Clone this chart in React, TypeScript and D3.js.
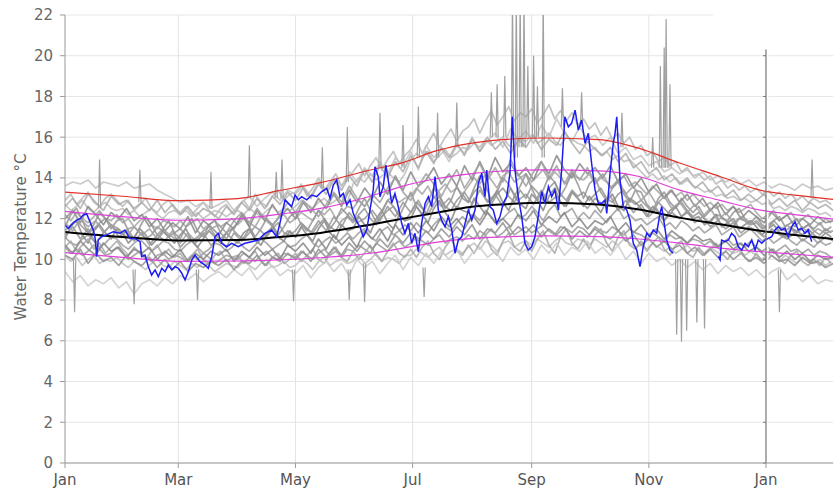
import React from "react";
import * as d3 from "d3";

const W = 835;
const H = 491;
const LEFT = 65;
const RIGHT = 833.2;
const TOP = 15;
const BOTTOM = 463;

const monthLabels = ["Jan", "Mar", "May", "Jul", "Sep", "Nov", "Jan"];
const monthDays = [0, 59, 120, 181, 243, 304, 365];
const yTicks = [0, 2, 4, 6, 8, 10, 12, 14, 16, 18, 20, 22];
const yLabel = "Water Temperature °C";

// climatology curves (day of year -> °C)
const curveDays = [0, 30, 59, 90, 110, 133, 159, 176, 194, 211, 228, 250, 278, 299, 320, 341, 362, 380, 400];
const meanTemp = [11.35, 11.1, 10.93, 10.95, 11.08, 11.3, 11.7, 12.0, 12.3, 12.57, 12.7, 12.78, 12.7, 12.45, 12.05, 11.72, 11.4, 11.2, 11.0];
const upperSd = [12.36, 12.1, 11.92, 11.99, 12.2, 12.5, 13.1, 13.6, 13.97, 14.2, 14.34, 14.39, 14.35, 14.07, 13.4, 12.9, 12.42, 12.2, 11.98];
const lowerSd = [10.33, 10.1, 9.9, 9.92, 9.97, 10.08, 10.3, 10.55, 10.85, 11.02, 11.1, 11.15, 11.12, 11.0, 10.8, 10.55, 10.38, 10.25, 10.1];
const upper2Sd = [13.3, 13.1, 12.88, 12.98, 13.35, 13.77, 14.39, 14.75, 15.35, 15.7, 15.88, 15.96, 15.88, 15.45, 14.73, 14.07, 13.4, 13.15, 12.95];

// historical years sampled every 4 days (day 0..400)
const gray1 = [
  13.6, 13.8, 13.7, 13.9, 13.5, 13.8, 13.7, 13.6, 13.8, 13.5,
  13.6, 13.7, 13.4, 13.2, 13.0, 12.8, 12.9, 12.6, 12.8, 12.5,
  12.7, 12.9, 12.4, 12.8, 13.1, 12.6, 13.0, 13.3, 12.9, 13.4,
  13.2, 13.6, 13.1, 13.8, 13.4, 14.0, 13.6, 14.3, 13.8, 14.5,
  14.1, 14.8, 14.2, 15.0, 14.6, 15.3, 14.4, 15.6, 15.0, 15.4,
  14.8, 15.6, 15.2, 16.0, 15.3, 15.8, 16.2, 15.5, 16.4, 15.9,
  16.3, 15.7, 16.6, 16.0, 16.9, 16.2, 15.8, 16.5, 15.9, 16.1,
  15.6, 16.0, 15.2, 15.5, 14.9, 15.1, 14.6, 14.8, 14.3, 14.5,
  14.2, 14.4, 14.0, 14.3, 13.9, 14.1, 13.8, 14.0, 13.7, 13.9,
  13.6, 13.8, 13.5, 13.7, 13.6, 13.4, 13.7, 13.5, 13.6, 13.4,
  13.5,
];
const gray2 = [
  9.4, 8.9, 9.2, 8.7, 9.0, 8.8, 9.1, 8.6, 8.9, 8.3,
  8.8, 9.0, 8.7, 9.1, 8.8, 9.2, 9.0, 9.3, 8.9, 9.2,
  9.4, 9.1, 9.5, 9.2, 9.6, 9.0, 9.4, 9.7, 9.2, 9.5,
  9.3, 9.7, 9.1, 9.6, 9.9, 9.4, 9.8, 9.2, 10.0, 9.6,
  9.9, 9.3, 9.8, 10.2, 9.5, 10.1, 9.7, 10.3, 9.8, 10.4,
  10.0, 10.5, 9.8, 10.3, 10.6, 10.1, 10.4, 9.9, 10.6, 10.2,
  10.5, 10.0, 10.7, 10.3, 10.8, 10.2, 10.6, 10.4, 10.9, 10.3,
  10.6, 10.2, 10.7, 10.0, 10.4, 9.8, 10.3, 9.9, 10.1, 9.7,
  10.0, 9.6, 9.9, 9.5, 9.8, 9.3, 9.7, 9.4, 9.6, 9.2,
  9.5, 9.1, 9.4, 9.6, 9.0, 9.3, 8.9, 9.2, 8.8, 9.0,
  8.9,
];
const gray3 = [
  12.0, 12.4, 11.8, 12.6, 12.2, 11.7, 12.3, 12.0, 12.5, 11.9,
  12.2, 11.6, 12.0, 11.4, 11.8, 11.5, 12.1, 11.3, 11.9, 11.6,
  11.2, 11.8, 11.5, 12.2, 11.6, 12.4, 11.9, 12.7, 12.1, 12.5,
  12.0, 12.8, 12.3, 13.0, 12.5, 13.2, 12.6, 13.4, 12.8, 13.5,
  13.0, 13.8, 13.2, 14.1, 13.4, 14.3, 13.6, 13.9, 14.5, 13.7,
  14.2, 13.6, 14.6, 13.9, 14.8, 14.0, 15.0, 14.3, 14.7, 14.1,
  14.5, 13.9, 14.8, 14.2, 15.1, 14.4, 14.0, 14.7, 14.2, 14.5,
  14.0, 14.6, 13.8, 14.2, 13.5, 14.0, 13.3, 13.7, 13.0, 13.4,
  12.8, 13.2, 12.6, 13.0, 12.4, 12.8, 12.2, 12.6, 12.0, 12.4,
  12.1, 11.8, 12.3, 11.9, 12.2, 11.6, 12.0, 11.7, 12.1, 11.8,
  11.9,
];
const gray4 = [
  11.2, 11.6, 11.0, 11.5, 10.8, 11.3, 11.7, 11.1, 11.4, 10.9,
  11.3, 10.7, 11.2, 10.9, 11.4, 10.6, 11.0, 10.8, 11.3, 10.7,
  11.0, 10.6, 11.3, 10.9, 11.5, 10.8, 11.2, 11.6, 11.0, 11.4,
  11.1, 11.7, 11.3, 11.9, 11.4, 12.1, 11.6, 12.3, 11.8, 12.0,
  12.4, 11.9, 12.6, 12.1, 12.8, 12.3, 12.9, 12.2, 13.1, 12.6,
  13.0, 12.5, 13.3, 12.7, 13.4, 12.8, 13.2, 12.6, 13.5, 12.9,
  13.2, 12.7, 13.4, 12.8, 13.1, 12.6, 13.3, 12.9, 12.5, 13.0,
  12.7, 13.1, 12.4, 12.9, 12.3, 12.7, 12.1, 12.5, 11.9, 12.3,
  12.0, 12.4, 11.8, 12.1, 11.6, 11.9, 11.5, 11.8, 11.3, 11.6,
  11.4, 11.1, 11.5, 11.2, 11.0, 11.3, 10.9, 11.2, 10.8, 11.1,
  10.9,
];
const gray5 = [
  10.7, 10.3, 10.9, 10.5, 10.2, 10.8, 10.4, 10.6, 10.1, 10.5,
  10.3, 10.6, 10.0, 10.4, 10.1, 10.5, 9.9, 10.3, 10.0, 10.4,
  10.2, 10.5, 9.9, 10.4, 10.1, 10.6, 10.2, 10.5, 10.0, 10.7,
  10.4, 10.8, 10.3, 11.0, 10.5, 11.2, 10.7, 11.1, 10.6, 11.4,
  11.0, 11.5, 10.9, 11.7, 11.2, 11.8, 11.3, 11.9, 11.4, 12.1,
  11.6, 12.0, 11.5, 12.2, 11.7, 12.3, 11.8, 12.0, 11.6, 12.2,
  11.9, 12.4, 11.7, 12.1, 11.8, 12.3, 11.6, 12.0, 11.5, 11.9,
  11.7, 12.1, 11.4, 11.8, 11.3, 11.7, 11.2, 11.5, 11.0, 11.4,
  11.1, 10.8, 11.2, 10.9, 11.0, 10.6, 10.9, 10.5, 10.8, 10.4,
  10.6, 10.2, 10.5, 10.1, 10.4, 10.0, 10.3, 9.9, 10.2, 10.0,
  10.1,
];
const gray6 = [
  12.6, 13.0, 12.5, 13.2, 12.8, 12.4, 13.1, 12.7, 12.9, 12.5,
  12.8, 12.4, 12.9, 12.3, 12.7, 12.2, 12.6, 12.1, 12.5, 12.3,
  12.0, 12.6, 12.2, 12.8, 12.4, 13.0, 12.5, 13.1, 12.7, 13.3,
  12.9, 13.5, 13.0, 13.7, 13.2, 13.9, 13.4, 14.1, 13.6, 14.4,
  13.8, 14.6, 14.0, 14.8, 14.3, 15.1, 14.5, 15.3, 14.7, 15.5,
  15.0, 15.7, 15.1, 15.9, 15.3, 16.0, 15.4, 15.8, 15.2, 15.9,
  15.5, 16.1, 15.4, 15.9, 15.6, 16.3, 15.7, 15.2, 15.8, 15.4,
  15.1, 15.5, 14.8, 15.2, 14.5, 14.8, 14.2, 14.5, 13.9, 14.2,
  13.7, 14.0, 13.5, 13.8, 13.3, 13.6, 13.1, 13.4, 12.9, 13.2,
  12.9, 13.2, 12.7, 13.0, 12.6, 12.9, 12.4, 12.8, 12.5, 12.7,
  12.4,
];
const gray7 = [
  10.2, 10.0, 10.5, 9.8, 10.3, 9.9, 10.1, 9.7, 10.2, 9.9,
  9.7, 10.1, 9.6, 10.0, 9.5, 9.9, 9.4, 9.8, 9.6, 9.9,
  9.7, 10.0, 9.5, 9.9, 9.8, 10.2, 9.7, 10.1, 9.9, 10.3,
  10.0, 10.4, 9.9, 10.5, 10.1, 10.6, 10.2, 10.8, 10.4, 10.9,
  10.5, 11.0, 10.6, 11.2, 10.8, 11.3, 10.9, 11.4, 11.0, 11.5,
  11.1, 11.6, 11.2, 11.7, 11.0, 11.5, 11.3, 11.8, 11.2, 11.6,
  11.3, 11.7, 11.1, 11.5, 11.2, 11.6, 11.0, 11.4, 11.1, 11.5,
  11.2, 11.0, 11.4, 10.9, 11.2, 10.7, 11.0, 10.6, 10.9, 10.5,
  10.7, 10.3, 10.6, 10.2, 10.5, 10.1, 10.4, 10.0, 10.3, 9.9,
  10.1, 9.8, 10.2, 9.9, 10.0, 9.7, 10.1, 9.8, 9.9, 9.6,
  9.8,
];
const gray8 = [
  11.8, 11.4, 12.0, 11.6, 11.9, 11.3, 11.7, 11.5, 11.1, 11.6,
  11.2, 11.5, 11.0, 11.4, 11.1, 10.8, 11.3, 10.9, 11.2, 11.5,
  11.7, 11.3, 11.9, 12.3, 11.8, 12.5, 12.0, 11.6, 12.2, 12.8,
  12.3, 12.9, 12.5, 12.1, 12.7, 13.3, 12.8, 13.6, 13.0, 12.6,
  13.2, 12.8, 13.5, 14.0, 13.3, 12.9, 13.6, 14.2, 13.7, 13.1,
  13.8, 14.4, 13.5, 14.1, 14.7, 13.9, 14.5, 13.8, 14.9, 14.2,
  13.6, 14.3, 14.8, 14.0, 14.6, 13.7, 14.4, 13.9, 14.5, 13.8,
  14.2, 13.5, 13.9, 13.2, 13.6, 12.9, 13.3, 12.7, 13.1, 12.5,
  12.8, 12.3, 12.7, 12.1, 12.5, 11.9, 12.3, 11.8, 12.1, 11.7,
  11.9, 11.5, 11.8, 11.4, 11.7, 11.3, 11.6, 11.2, 11.5, 11.3,
  11.4,
];

// historical years sampled every 3 days (day 0..399)
const gray9 = [
  11.4, 11.7, 11.9, 11.6, 11.3, 11.5, 11.8, 12.0, 11.7, 11.4,
  11.2, 11.5, 11.6, 11.3, 11.0, 11.2, 11.6, 11.4, 11.1, 11.3,
  11.5, 11.2, 10.9, 11.1, 11.4, 11.6, 11.2, 11.0, 11.3, 11.5,
  11.2, 11.0, 11.3, 11.6, 11.4, 11.1, 11.5, 11.8, 11.3, 11.2,
  11.4, 11.8, 11.5, 11.3, 11.7, 12.0, 11.6, 11.4, 11.9, 12.1,
  11.8, 12.2, 12.5, 12.0, 11.7, 12.1, 12.4, 12.6, 12.2, 11.9,
  12.3, 12.8, 12.5, 12.2, 12.7, 13.1, 12.6, 12.4, 12.9, 13.2,
  12.8, 13.3, 13.6, 13.0, 12.7, 13.2, 13.5, 13.1, 12.8, 13.4,
  13.0, 13.6, 13.3, 12.9, 13.5, 13.8, 13.2, 12.9, 13.4, 13.1,
  13.3, 12.9, 13.2, 13.5, 13.0, 12.8, 13.2, 13.4, 12.9, 12.7,
  12.9, 12.6, 12.3, 12.8, 12.5, 12.2, 12.6, 12.8, 12.4, 12.1,
  12.3, 12.0, 11.8, 12.2, 12.1, 11.8, 11.6, 12.0, 11.9, 11.7,
  11.8, 11.5, 11.7, 11.9, 11.6, 11.4, 11.6, 11.3, 11.5, 11.7,
  11.4, 11.2, 11.5, 11.3,
];
const gray10 = [
  11.1, 10.8, 10.7, 11.0, 11.2, 10.9, 10.6, 10.8, 11.1, 11.0,
  10.7, 10.5, 10.8, 11.0, 10.7, 10.4, 10.6, 10.9, 10.8, 10.5,
  10.4, 10.7, 10.9, 10.6, 10.3, 10.5, 10.8, 10.7, 10.4, 10.6,
  10.9, 10.6, 10.4, 10.7, 11.0, 10.8, 10.5, 10.7, 10.9, 10.6,
  10.7, 11.0, 11.2, 10.8, 10.6, 10.9, 11.1, 10.8, 11.0, 11.3,
  11.0, 11.3, 11.5, 11.1, 10.9, 11.4, 11.6, 11.2, 11.4, 11.7,
  11.4, 11.8, 11.5, 11.3, 11.7, 12.0, 11.6, 11.4, 11.8, 12.1,
  11.8, 12.2, 11.9, 12.4, 12.1, 11.7, 12.0, 12.3, 12.5, 12.0,
  12.2, 12.6, 12.3, 11.9, 12.4, 12.7, 12.1, 12.3, 12.5, 12.0,
  12.3, 12.0, 12.4, 12.1, 11.8, 12.2, 12.5, 12.0, 12.2, 11.9,
  12.0, 11.7, 11.9, 12.1, 11.6, 11.8, 11.5, 11.9, 11.7, 11.4,
  11.6, 11.3, 11.5, 11.7, 11.2, 11.4, 11.6, 11.1, 11.3, 11.5,
  11.2, 10.9, 11.1, 10.8, 11.0, 11.2, 10.9, 10.7, 11.0, 10.8,
  10.6, 10.9, 10.7, 10.8,
];
const gray11 = [
  12.2, 11.9, 12.3, 12.0, 11.8, 12.1, 12.4, 12.0, 11.9, 12.2,
  11.8, 12.0, 11.6, 11.9, 12.1, 11.7, 11.5, 11.9, 11.8, 11.6,
  11.9, 11.6, 11.8, 12.0, 11.5, 11.7, 11.9, 11.6, 11.8, 12.0,
  11.7, 12.0, 11.8, 11.6, 12.1, 11.9, 11.7, 12.0, 12.2, 11.8,
  12.0, 12.3, 12.1, 11.9, 12.4, 12.2, 12.5, 12.0, 12.3, 12.6,
  12.5, 12.9, 12.6, 13.0, 12.7, 12.4, 12.9, 13.1, 12.8, 13.0,
  13.1, 13.5, 13.2, 13.6, 13.0, 13.4, 13.7, 13.3, 13.5, 13.2,
  13.6, 14.0, 13.7, 14.2, 13.9, 13.5, 14.1, 14.3, 13.8, 14.0,
  14.2, 13.8, 14.1, 14.4, 13.9, 14.3, 14.0, 13.7, 14.2, 14.0,
  13.9, 14.2, 13.7, 14.0, 13.8, 13.5, 13.9, 14.1, 13.6, 13.8,
  13.5, 13.2, 13.6, 13.3, 13.0, 13.4, 13.1, 13.3, 12.9, 13.2,
  12.9, 12.6, 12.8, 12.5, 12.7, 12.4, 12.6, 12.3, 12.5, 12.7,
  12.3, 12.0, 12.2, 12.4, 11.9, 12.1, 12.3, 11.9, 12.0, 12.2,
  11.9, 11.7, 12.0, 11.8,
];
const gray12 = [
  10.6, 10.3, 10.5, 10.2, 10.4, 10.7, 10.5, 10.2, 10.3, 10.6,
  10.3, 10.0, 10.2, 10.4, 10.1, 9.9, 10.2, 10.3, 10.0, 10.2,
  10.1, 9.9, 10.2, 10.0, 10.3, 10.1, 9.8, 10.0, 10.2, 10.1,
  10.0, 10.3, 10.1, 9.9, 10.2, 10.4, 10.1, 10.0, 10.3, 10.2,
  10.1, 10.4, 10.2, 10.0, 10.3, 10.5, 10.2, 10.4, 10.1, 10.5,
  10.4, 10.7, 10.5, 10.3, 10.8, 10.6, 10.4, 10.7, 10.9, 10.6,
  10.8, 11.1, 10.9, 10.7, 11.0, 11.2, 10.8, 11.0, 11.1, 10.9,
  11.2, 11.0, 11.4, 11.2, 11.5, 11.1, 11.3, 11.6, 11.2, 11.4,
  11.6, 11.3, 11.5, 11.7, 11.4, 11.2, 11.6, 11.5, 11.3, 11.6,
  11.5, 11.2, 11.6, 11.4, 11.3, 11.6, 11.4, 11.2, 11.5, 11.3,
  11.2, 11.0, 11.3, 11.1, 10.9, 11.2, 11.0, 11.1, 10.8, 11.0,
  10.9, 10.7, 10.9, 10.6, 10.8, 11.0, 10.7, 10.8, 10.6, 10.9,
  10.6, 10.4, 10.6, 10.3, 10.5, 10.7, 10.4, 10.5, 10.3, 10.5,
  10.2, 10.4, 10.3, 10.1,
];
const gray13 = [
  11.0, 11.6, 11.9, 11.2, 10.8, 11.4, 11.7, 11.3, 11.0, 11.5,
  11.3, 10.8, 11.1, 11.5, 11.2, 10.7, 11.0, 11.4, 11.1, 10.8,
  11.2, 11.5, 10.9, 10.6, 11.0, 11.4, 11.1, 10.8, 11.3, 11.0,
  10.8, 11.3, 11.5, 11.0, 10.7, 11.2, 11.6, 11.1, 10.9, 11.4,
  11.1, 11.6, 11.2, 10.9, 11.5, 11.9, 11.3, 11.0, 11.7, 11.4,
  11.5, 12.1, 11.7, 11.3, 12.0, 12.4, 11.8, 11.5, 12.2, 11.9,
  12.0, 12.6, 12.2, 11.8, 12.5, 12.9, 12.3, 11.9, 12.6, 12.4,
  12.3, 13.0, 12.6, 12.2, 12.9, 13.4, 12.8, 12.4, 13.1, 12.7,
  12.5, 13.2, 12.9, 12.4, 13.1, 13.5, 12.8, 12.6, 13.3, 13.0,
  12.6, 13.1, 12.7, 12.3, 12.9, 13.2, 12.6, 12.4, 13.0, 12.8,
  12.5, 12.1, 12.6, 12.3, 11.9, 12.4, 12.6, 12.1, 12.3, 12.0,
  12.1, 11.7, 11.9, 12.2, 11.6, 11.8, 12.0, 11.5, 11.7, 11.9,
  11.6, 11.2, 11.5, 11.7, 11.3, 11.1, 11.5, 11.4, 11.2, 11.5,
  11.2, 11.0, 11.3, 11.1,
];
const gray14 = [
  12.7, 12.4, 12.6, 12.9, 12.5, 12.3, 12.6, 12.8, 12.5, 12.4,
  12.5, 12.2, 12.4, 12.1, 12.3, 12.5, 12.2, 12.0, 12.3, 12.4,
  12.2, 12.4, 12.1, 12.3, 12.0, 12.2, 12.4, 12.3, 12.1, 12.3,
  12.4, 12.2, 12.5, 12.3, 12.1, 12.4, 12.6, 12.3, 12.5, 12.4,
  12.6, 12.9, 12.7, 12.5, 12.8, 13.0, 12.7, 12.9, 13.1, 12.8,
  13.7, 14.0, 13.8, 14.2, 13.9, 14.1, 14.3, 14.0, 13.8, 14.2,
  14.9, 15.2, 15.0, 15.3, 14.8, 15.1, 15.4, 15.0, 15.2, 15.5,
  15.4, 15.7, 15.5, 15.9, 15.6, 15.8, 16.0, 15.6, 15.5, 15.9,
  15.8, 16.1, 15.7, 15.9, 16.2, 15.8, 15.6, 16.0, 15.9, 15.7,
  15.6, 15.3, 15.5, 15.1, 15.3, 14.9, 15.1, 14.8, 14.9, 14.6,
  14.3, 14.0, 14.2, 13.9, 14.1, 13.8, 14.0, 13.7, 13.9, 13.6,
  13.5, 13.3, 13.4, 13.1, 13.2, 13.0, 13.1, 12.9, 13.0, 12.8,
  12.9, 12.7, 12.8, 12.5, 12.6, 12.4, 12.6, 12.5, 12.3, 12.5,
  12.4, 12.2, 12.3, 12.1,
];
const gray15 = [
  10.2, 9.9, 10.1, 9.7, 10.0, 10.2, 9.8, 10.0, 9.9, 10.1,
  9.8, 9.6, 9.9, 9.7, 9.5, 9.8, 10.0, 9.7, 9.6, 9.9,
  9.7, 9.5, 9.8, 9.6, 9.9, 9.7, 9.4, 9.6, 9.8, 9.7,
  9.6, 9.9, 9.7, 9.5, 9.8, 10.0, 9.6, 9.7, 9.9, 9.6,
  9.7, 10.0, 9.8, 9.5, 9.9, 10.1, 9.7, 9.9, 10.0, 9.8,
  9.9, 10.2, 9.8, 10.0, 10.3, 9.9, 10.1, 10.0, 9.8, 10.2,
  10.2, 10.5, 10.3, 10.1, 10.4, 10.6, 10.2, 10.4, 10.5, 10.3,
  10.6, 10.8, 10.5, 10.9, 10.7, 10.4, 10.8, 10.9, 10.6, 10.8,
  10.9, 10.7, 11.0, 10.8, 10.6, 10.9, 11.1, 10.8, 10.7, 11.0,
  10.9, 10.7, 11.0, 10.8, 10.6, 10.9, 10.7, 11.0, 10.8, 10.6,
  10.7, 10.5, 10.8, 10.6, 10.4, 10.6, 10.3, 10.5, 10.7, 10.4,
  10.5, 10.3, 10.6, 10.4, 10.2, 10.5, 10.3, 10.4, 10.2, 10.4,
  10.2, 10.0, 10.3, 10.1, 9.9, 10.2, 10.0, 9.8, 10.1, 9.9,
  9.8, 10.0, 9.7, 9.9,
];
const gray16 = [
  11.6, 12.2, 12.5, 11.9, 11.3, 11.7, 12.3, 12.0, 11.5, 11.9,
  12.0, 11.4, 11.0, 11.6, 12.1, 11.7, 11.2, 11.5, 11.9, 11.3,
  11.0, 11.6, 12.0, 11.4, 11.1, 11.7, 11.9, 11.3, 11.0, 11.5,
  11.8, 12.2, 11.6, 11.1, 11.5, 12.0, 11.7, 11.2, 11.6, 12.1,
  12.3, 11.7, 11.4, 11.9, 12.4, 12.0, 11.5, 11.9, 12.5, 12.2,
  11.9, 12.5, 13.0, 12.4, 11.8, 12.3, 12.9, 12.6, 12.1, 12.7,
  13.3, 12.6, 12.2, 12.8, 13.5, 13.1, 12.5, 12.9, 13.6, 13.0,
  12.8, 13.5, 14.1, 13.6, 12.9, 13.3, 14.0, 13.7, 13.1, 13.6,
  14.2, 13.5, 12.9, 13.4, 14.1, 13.8, 13.1, 13.6, 14.3, 13.7,
  13.0, 13.7, 14.0, 13.3, 12.9, 13.5, 13.8, 13.2, 12.8, 13.4,
  13.3, 12.7, 12.4, 13.0, 13.3, 12.8, 12.5, 13.0, 12.6, 12.3,
  12.6, 12.1, 12.4, 12.7, 12.0, 11.9, 12.3, 12.5, 12.0, 11.8,
  12.1, 11.7, 11.5, 11.9, 12.1, 11.6, 11.8, 12.0, 11.5, 11.7,
  11.5, 11.8, 11.4, 11.6,
];
const gray17 = [
  12.9, 13.2, 12.7, 13.0, 13.3, 12.8, 12.6, 13.0, 13.2, 12.9,
  12.6, 12.9, 12.4, 12.7, 13.0, 12.5, 12.3, 12.7, 12.9, 12.5,
  12.3, 12.6, 12.2, 12.5, 12.8, 12.4, 12.1, 12.5, 12.7, 12.3,
  12.6, 12.9, 12.5, 13.2, 12.8, 12.6, 13.1, 13.4, 12.9, 13.2,
  13.3, 13.7, 13.1, 13.5, 14.0, 13.4, 13.8, 14.2, 13.6, 14.0,
  14.3, 14.7, 14.1, 14.6, 15.0, 14.4, 14.9, 15.3, 14.7, 15.1,
  15.4, 15.9, 15.2, 15.7, 16.2, 15.5, 16.0, 16.4, 15.8, 16.3,
  16.5, 16.9, 16.2, 16.8, 17.3, 16.6, 17.0, 17.5, 16.8, 17.2,
  17.0, 17.4, 16.7, 17.1, 17.6, 16.9, 17.3, 16.8, 17.2, 16.6,
  16.9, 16.4, 16.7, 16.1, 16.5, 15.9, 16.2, 15.7, 16.0, 15.4,
  15.6, 15.1, 15.3, 14.8, 15.0, 14.6, 14.8, 14.3, 14.5, 14.1,
  14.2, 13.9, 14.1, 13.7, 13.9, 13.5, 13.7, 13.4, 13.6, 13.3,
  13.5, 13.2, 13.4, 13.1, 13.3, 13.0, 13.2, 12.9, 13.1, 12.8,
  13.0, 12.8, 12.9, 12.7,
];
const gray18 = [
  10.6, 10.9, 10.4, 10.7, 11.0, 10.5, 10.8, 10.3, 10.6, 10.9,
  10.5, 10.2, 10.6, 10.3, 10.0, 10.4, 10.7, 10.2, 10.5, 10.1,
  10.3, 9.9, 10.2, 10.5, 10.0, 9.8, 10.2, 10.4, 9.9, 10.1,
  10.2, 9.8, 10.1, 10.4, 9.9, 9.7, 10.1, 10.3, 9.8, 10.0,
  10.3, 9.9, 10.2, 10.5, 10.0, 9.8, 10.3, 10.6, 10.1, 9.9,
  10.4, 10.0, 10.3, 10.7, 10.2, 9.9, 10.4, 10.8, 10.3, 10.1,
  10.5, 10.1, 10.6, 10.9, 10.3, 10.0, 10.6, 11.0, 10.4, 10.2,
  10.7, 10.3, 10.8, 11.2, 10.5, 10.2, 10.9, 11.3, 10.6, 10.4,
  10.9, 10.4, 11.0, 11.4, 10.7, 10.3, 11.1, 11.5, 10.8, 10.5,
  11.0, 10.5, 11.2, 11.5, 10.8, 10.4, 11.1, 11.4, 10.7, 10.5,
  10.9, 10.4, 10.8, 11.1, 10.5, 10.2, 10.7, 10.9, 10.3, 10.1,
  10.6, 10.2, 10.5, 10.8, 10.3, 10.0, 10.4, 10.6, 10.1, 9.9,
  10.3, 9.9, 10.2, 10.5, 10.0, 9.8, 10.2, 10.4, 9.9, 9.7,
  10.0, 9.7, 10.1, 9.8,
];

const grayEvery4 = [gray1, gray2, gray3, gray4, gray5, gray6, gray7, gray8];
const grayEvery3 = [gray9, gray10, gray11, gray12, gray13, gray14, gray15, gray16, gray17, gray18];
const shades4 = ["#c2c2c2", "#cccccc", "#8a8a8a", "#979797", "#868686", "#ababab", "#929292", "#a0a0a0"];
const shades3 = ["#959595", "#9e9e9e", "#a6a6a6", "#9b9b9b", "#888888", "#bdbdbd", "#c0c0c0", "#949494", "#b8b8b8", "#a8a8a8"];

// short excursions in the historical records: [day, base °C, extreme °C]
const spikes: [number, number, number][] = [
  [5, 10.0, 7.4], [18, 12.5, 14.9], [36, 9.5, 7.8], [39, 12.8, 14.4], [69, 9.5, 8.0],
  [76, 12.5, 14.3], [96, 13.0, 15.6], [110, 13.0, 14.3], [113, 13.0, 14.9], [119, 9.5, 7.95],
  [134, 13.5, 15.5], [147, 13.8, 16.5], [148, 9.5, 8.0], [156, 9.8, 7.9], [164, 14.5, 17.2],
  [176, 14.5, 16.6], [184, 15.0, 17.5], [187, 9.6, 8.15], [194, 15.0, 17.2], [204, 15.5, 17.7],
  [222, 16.0, 18.2], [225, 16.0, 18.6], [229, 16.0, 19.0], [233, 15.5, 23], [235, 15.0, 23],
  [237, 15.5, 23], [239, 15.5, 23], [241, 16.0, 19.5], [244, 16.0, 20.0], [246, 16.0, 18.5],
  [249, 15.0, 23], [259, 16.5, 18.4], [269, 16.5, 18.2], [290, 15.5, 17.2], [306, 14.5, 16.0],
  [310, 14.5, 19.5], [312, 14.5, 20.4], [313, 14.5, 21.8], [315, 14.5, 18.6],
  [318.5, 10.0, 6.3], [321, 10.0, 5.95], [323.7, 10.0, 6.5], [329, 10.0, 6.9], [333, 10.0, 6.6],
  [372, 9.5, 7.4], [389, 13.0, 14.9],
];

// current year (blue), two recorded stretches
const blueA: [number, number][] = [
  [0, 11.69], [1.7, 11.52], [4.3, 11.8], [6.1, 11.93], [7.8, 12.0], [9.5, 12.18], [11.3, 12.23], [13.0, 11.85],
  [14.7, 11.44], [15.6, 11.11], [16.5, 10.13], [17.3, 10.95], [19.1, 11.11], [21.7, 11.2], [25.1, 11.36], [28.6, 11.28],
  [31.2, 11.44], [33.8, 11.03], [36.4, 11.03], [39.1, 10.87], [39.9, 10.13], [41.7, 10.21], [43.4, 9.64], [45.1, 9.23],
  [46.9, 9.48], [48.6, 9.15], [50.4, 9.56], [52.1, 9.39], [53.8, 9.72], [55.6, 9.48], [57.3, 9.64], [59.0, 9.56],
  [60.8, 9.32], [62.5, 8.99], [64.2, 9.39], [66.0, 9.97], [67.7, 10.21], [70.3, 9.89], [72.9, 9.72], [74.6, 9.56],
  [76.4, 10.13], [78.1, 11.11], [79.8, 11.28], [81.6, 10.79], [84.2, 10.62], [86.8, 10.79], [90.2, 10.62], [93.7, 10.79],
  [97.2, 10.87], [100.6, 10.95], [104.1, 11.28], [107.6, 11.44], [110.2, 11.11], [111.9, 11.77], [114.6, 12.92], [116.3, 12.75],
  [118.0, 12.59], [119.8, 13.16], [121.5, 12.92], [123.2, 13.08], [125.9, 12.92], [128.5, 13.16], [131.1, 13.08], [133.7, 13.33],
  [136.3, 13.49], [138.0, 13.0], [139.7, 13.65], [141.5, 13.9], [143.2, 13.08], [144.9, 13.24], [146.7, 12.67], [148.4, 12.92],
  [150.1, 12.26], [151.9, 11.85], [153.6, 11.6], [155.3, 11.11], [157.1, 11.44], [158.8, 12.42], [160.5, 13.41], [161.4, 14.55],
  [163.1, 14.06], [164.0, 13.08], [165.7, 13.57], [167.1, 14.63], [168.3, 13.9], [170.1, 12.75], [171.8, 13.24], [173.5, 12.59],
  [175.3, 11.77], [177.0, 11.28], [178.8, 11.77], [180.5, 10.79], [182.2, 11.28], [184.0, 10.38], [185.7, 11.77], [187.5, 12.75],
  [189.2, 13.08], [190.9, 12.59], [192.7, 14.06], [194.4, 12.42], [196.1, 11.93], [197.9, 11.6], [199.6, 12.1], [201.4, 11.44],
  [203.1, 10.3], [204.8, 10.95], [206.6, 11.11], [208.3, 11.77], [210.0, 12.42], [211.8, 11.93], [213.5, 12.42], [215.2, 13.73],
  [217.0, 14.23], [218.7, 13.08], [219.6, 14.39], [221.3, 12.59], [223.0, 12.42], [224.8, 11.77], [226.5, 12.1], [228.2, 12.75],
  [230.0, 13.08], [231.7, 14.23], [232.9, 17.0], [234.3, 14.39], [236.0, 13.08], [237.8, 12.1], [239.5, 10.79], [241.2, 10.46],
  [243.0, 10.62], [244.7, 11.11], [246.4, 12.1], [248.2, 13.33], [249.9, 12.75], [251.7, 13.57], [253.4, 13.08], [255.1, 13.41],
  [256.9, 12.42], [258.6, 14.39], [260.3, 17.0], [262.1, 16.51], [263.8, 16.68], [265.6, 17.33], [267.3, 16.35], [269.0, 16.84],
  [270.8, 15.7], [272.5, 16.19], [274.2, 14.72], [276.0, 13.41], [277.7, 12.75], [279.5, 12.75], [281.2, 12.92], [282.1, 12.26],
  [283.8, 14.23], [285.5, 15.7], [286.4, 16.19], [287.3, 17.0], [288.1, 15.54], [289.0, 13.9], [290.7, 12.59], [292.5, 12.42],
  [294.2, 11.93], [295.9, 10.79], [297.7, 10.46], [299.4, 9.64], [301.1, 10.62], [302.9, 11.28], [304.6, 11.11], [306.3, 11.44],
  [308.1, 11.28], [309.8, 12.26], [310.7, 12.59], [311.5, 12.1], [313.3, 10.95], [315.0, 10.46], [316.7, 10.3],
];
const blueB: [number, number][] = [
  [340.2, 10.13], [341.1, 9.97], [341.9, 10.95], [343.7, 10.87], [345.4, 10.95], [347.1, 11.28], [348.9, 11.11], [350.6, 10.62],
  [352.4, 10.46], [354.1, 10.79], [355.8, 10.62], [357.6, 10.95], [359.3, 10.46], [361.0, 10.95], [362.8, 10.79], [364.5, 10.95],
  [366.2, 11.03], [368.0, 11.11], [369.7, 11.44], [371.4, 11.6], [373.2, 11.44], [374.9, 11.52], [376.6, 11.11], [378.4, 11.6],
  [380.1, 11.85], [381.8, 11.44], [383.6, 11.52], [385.3, 11.28], [387.0, 11.44], [388.8, 10.87],
];

const FONT = "'DejaVu Sans', Verdana, sans-serif";

export default function App() {
  const x = d3.scaleLinear().domain([0, 400]).range([LEFT, RIGHT]);
  const y = d3.scaleLinear().domain([0, 22]).range([BOTTOM, TOP]);

  const pairLine = d3.line<[number, number]>().x((d) => x(d[0])).y((d) => y(d[1]));
  const smooth = (vals: number[]) =>
    d3
      .line<number>()
      .x((_, i) => x(curveDays[i]))
      .y((d) => y(d))
      .curve(d3.curveMonotoneX)(vals) || "";
  const grayPath = (vals: number[], step: number) =>
    d3
      .line<number>()
      .x((_, i) => x(i * step))
      .y((d) => y(d))(vals) || "";

  const jan2 = x(365);

  return (
    <svg
      width={W}
      height={H}
      style={{ position: "absolute", left: 0, top: 0, background: "#fff" }}
      fontFamily={FONT}
    >
      <defs>
        <clipPath id="plot">
          <rect x={LEFT} y={TOP} width={RIGHT - LEFT} height={BOTTOM - TOP} />
        </clipPath>
      </defs>

      {/* grid */}
      {yTicks.map((t) => (
        <line
          key={"gy" + t}
          x1={LEFT}
          x2={t === 22 ? 713 : RIGHT}
          y1={y(t)}
          y2={y(t)}
          stroke="#e6e6e6"
          strokeWidth={1}
        />
      ))}
      {monthDays.slice(1, 6).map((d) => (
        <line key={"gx" + d} x1={x(d)} x2={x(d)} y1={TOP} y2={BOTTOM} stroke="#e3e3e3" strokeWidth={1} />
      ))}

      <g clipPath="url(#plot)">
        {grayEvery3.map((vals, i) => (
          <path
            key={"h" + i}
            d={grayPath(vals, 3)}
            fill="none"
            stroke={shades3[i]}
            strokeWidth={1.7}
            strokeOpacity={0.85}
            strokeLinejoin="round"
          />
        ))}
        {grayEvery4.map((vals, i) => (
          <path
            key={"g" + i}
            d={grayPath(vals, 4)}
            fill="none"
            stroke={shades4[i]}
            strokeWidth={1.7}
            strokeOpacity={0.85}
            strokeLinejoin="round"
          />
        ))}
        {spikes.map((s, i) => (
          <path
            key={"s" + i}
            d={pairLine([
              [s[0] - 0.6, s[1]],
              [s[0], s[2]],
              [s[0] + 0.6, s[1]],
            ]) || ""}
            fill="none"
            stroke="#a0a0a0"
            strokeWidth={1.2}
          />
        ))}
        <line x1={jan2 + 1.5} x2={jan2 + 1.5} y1={TOP} y2={BOTTOM} stroke="#fff" strokeWidth={2} />
        <path d={smooth(upper2Sd)} fill="none" stroke="#e0302a" strokeWidth={1.2} />
        <path d={smooth(upperSd)} fill="none" stroke="#de3fd8" strokeWidth={1.2} />
        <path d={smooth(lowerSd)} fill="none" stroke="#de3fd8" strokeWidth={1.2} />
        <path d={smooth(meanTemp)} fill="none" stroke="#000" strokeWidth={2} />
        <path d={pairLine(blueA) || ""} fill="none" stroke="#1c1cf5" strokeWidth={1.5} />
        <path d={pairLine(blueB) || ""} fill="none" stroke="#1c1cf5" strokeWidth={1.5} />
      </g>

      {/* second-year axis line */}
      <line x1={jan2} x2={jan2} y1={y(20.3)} y2={BOTTOM} stroke="#777" strokeWidth={1.2} />
      {yTicks.filter((t) => t <= 20).map((t) => (
        <line key={"jt" + t} x1={jan2 - 3} x2={jan2} y1={y(t)} y2={y(t)} stroke="#777" strokeWidth={1} />
      ))}

      {/* axes */}
      <line x1={LEFT} x2={LEFT} y1={TOP} y2={BOTTOM} stroke="#999" strokeWidth={1} />
      <line x1={LEFT} x2={RIGHT} y1={BOTTOM} y2={BOTTOM} stroke="#999" strokeWidth={1} />
      {yTicks.map((t) => (
        <g key={"yt" + t}>
          <line x1={LEFT - 5} x2={LEFT} y1={y(t)} y2={y(t)} stroke="#999" />
          <text x={53} y={y(t)} dy="0.36em" textAnchor="end" fontSize={15} fill="#666">
            {t}
          </text>
        </g>
      ))}
      {monthDays.map((d, i) => (
        <g key={"xt" + i}>
          <line x1={x(d)} x2={x(d)} y1={BOTTOM} y2={BOTTOM + 5} stroke="#999" />
          <text x={x(d)} y={485} textAnchor="middle" fontSize={15} fill="#555">
            {monthLabels[i]}
          </text>
        </g>
      ))}
      <text
        transform={`translate(26,237) rotate(-90)`}
        textAnchor="middle"
        fontSize={15}
        fill="#666"
      >
        {yLabel}
      </text>
    </svg>
  );
}
